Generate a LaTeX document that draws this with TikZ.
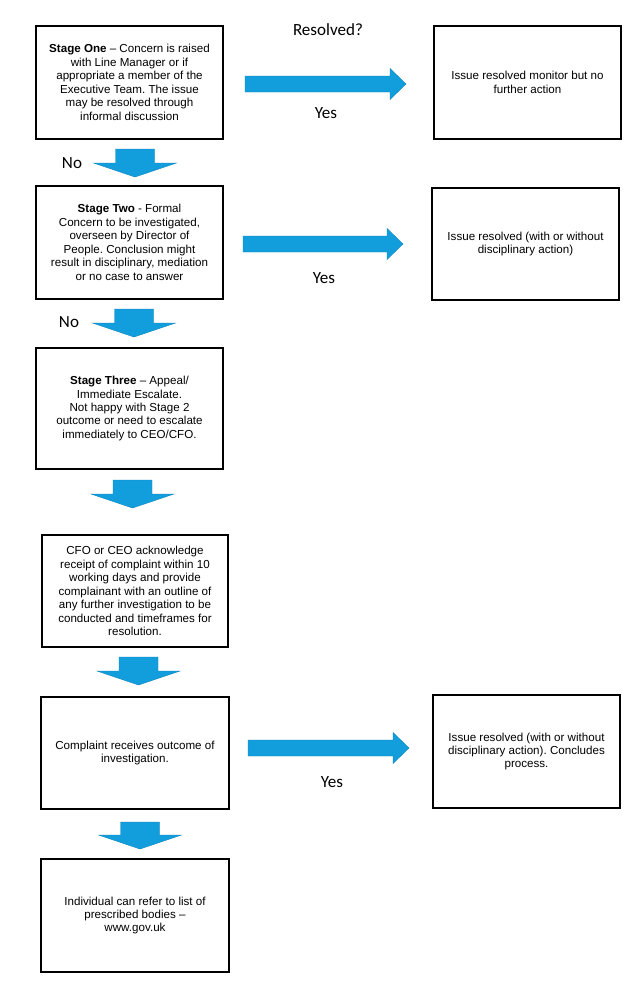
\documentclass[tikz,border=0pt]{standalone}
\usepackage{fontspec}
\setmainfont{Liberation Sans}
\newfontfamily\calfont{Carlito}
\frenchspacing
\definecolor{arrowblue}{RGB}{18,158,220}
\tikzset{
  box/.style={draw=black, line width=1pt, fill=white, inner sep=0pt, align=center,
    minimum width=140.25pt, minimum height=84.75pt,
    font=\fontsize{8.7}{10.1}\selectfont},
  lbl/.style={inner sep=0pt, font=\calfont\fontsize{12.8}{14}\selectfont},
  fat/.style={fill=arrowblue, draw=arrowblue!85!black, line width=0.3pt}
}
\newcommand\rightfat[3]{%
  \path[fat] (#1,#3-8) -- (#2-16,#3-8) -- (#2-16,#3-15.5) -- (#2,#3) -- (#2-16,#3+15.5) -- (#2-16,#3+8) -- (#1,#3+8) -- cycle;}
\newcommand\downfat[4]{%
  \path[fat] (#1-19.5,#2) -- (#1+19.5,#2) -- (#1+19.5,#3) -- (#1+41.5,#3) -- (#1,#4) -- (#1-41.5,#3) -- (#1-19.5,#3) -- cycle;}
\begin{document}
\begin{tikzpicture}[x=0.75pt, y=-0.75pt]
\useasboundingbox[fill=white] (0,0) rectangle (636,990);

\node[box] (b1) at (129.5,82.5) {\textbf{Stage One} – Concern is raised\\with Line Manager or if\\appropriate a member of the\\Executive Team. The issue\\may be resolved through\\informal discussion};
\node[box] (r1) at (527.5,82.5) {Issue resolved monitor but no\\further action};
\node[box] (b2) at (129.5,242.5) {\textbf{Stage Two} - Formal\\Concern to be investigated,\\overseen by Director of\\People. Conclusion might\\result in disciplinary, mediation\\or no case to answer};
\node[box, minimum height=84pt] (r2) at (525.5,244) {Issue resolved (with or without\\disciplinary action)};
\node[box, minimum height=90.75pt] (b3) at (129.5,408.5) {\textbf{Stage Three} – Appeal/\\Immediate Escalate.\\Not happy with Stage 2\\outcome or need to escalate\\immediately to CEO/CFO.};
\node[box, minimum width=139.5pt, minimum height=84pt] (b4) at (135,591) {CFO or CEO acknowledge\\receipt of complaint within 10\\working days and provide\\complainant with an outline of\\any further investigation to be\\conducted and timeframes for\\resolution.};
\node[box, minimum width=141pt, minimum height=84pt] (b5) at (135,753) {Complaint receives outcome of\\investigation.};
\node[box] (r3) at (526.5,751.5) {Issue resolved (with or without\\disciplinary action). Concludes\\process.};
\node[box, minimum width=141pt] (b6) at (135,915.5) {Individual can refer to list of\\prescribed bodies –\\www.gov.uk};

\rightfat{245}{406}{84}
\rightfat{243}{403}{244}
\rightfat{248}{409}{748}

\downfat{135}{149}{163}{177}
\downfat{134}{309}{323}{337}
\downfat{132.5}{480}{494}{508}
\downfat{138.5}{657}{671}{685}
\downfat{140}{822}{835}{849}

\node[lbl] (q) at (328,30) {Resolved?};
\node[lbl] (y1) at (326,113) {Yes};
\node[lbl] (n1) at (72,163) {No};
\node[lbl] (y2) at (324,278) {Yes};
\node[lbl] (n2) at (69,322) {No};
\node[lbl] (y3) at (332,782) {Yes};
\end{tikzpicture}
\end{document}
